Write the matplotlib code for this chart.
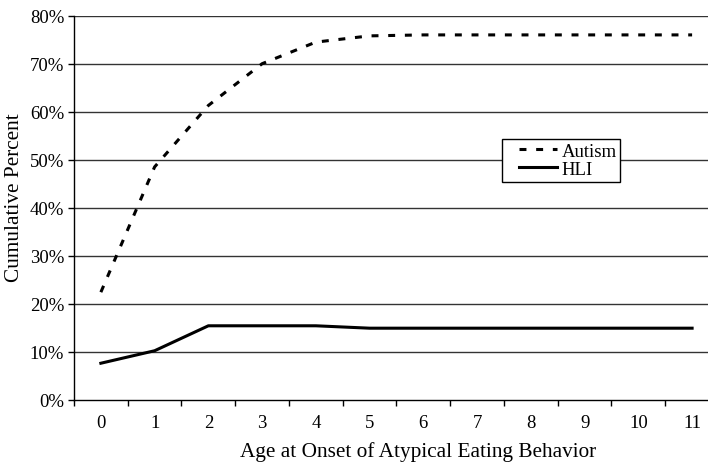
import matplotlib

matplotlib.use("Agg")
import matplotlib.pyplot as plt
from matplotlib.legend_handler import HandlerLine2D
from matplotlib.ticker import FixedLocator, PercentFormatter

plt.rcParams["font.family"] = ["Liberation Serif", "DejaVu Serif"]
plt.rcParams["lines.scale_dashes"] = False

# onset age (years) and cumulative percent per group
ages = list(range(12))
autism = [22.4, 48.5, 61.3, 70.0, 74.5, 75.8, 76.0, 76.0, 76.0, 76.0, 76.0, 76.0]
hli = [7.6, 10.2, 15.4, 15.4, 15.4, 14.9, 14.9, 14.9, 14.9, 14.9, 14.9, 14.9]
y_ticks = [0, 10, 20, 30, 40, 50, 60, 70, 80]


class InsetHandler(HandlerLine2D):
    # legend sample starts a bit in from the box edge, like the Excel original
    def create_artists(self, legend, orig_handle, xdescent, ydescent,
                       width, height, fontsize, trans):
        start = 0.245 * width
        return super().create_artists(legend, orig_handle, xdescent - start, ydescent,
                                      width * 0.95 - start, height, fontsize, trans)


fig = plt.figure(figsize=(7.08, 4.64), dpi=100)
ax = fig.add_axes([0.1045, 0.1364, 0.911, 0.8276])

for y in y_ticks[1:]:
    ax.axhline(y, color="#333333", linewidth=1.0, zorder=1)

ax.plot(ages, autism, color="black", linewidth=2.2, dashes=(5, 7), label="Autism", zorder=3)
ax.plot(ages, hli, color="black", linewidth=2.2, label="HLI", zorder=3)

ax.set_xlim(-0.5, 11.5)
ax.set_ylim(0, 80)
ax.set_yticks(y_ticks)
ax.yaxis.set_major_formatter(PercentFormatter(decimals=0))

ax.set_xticks(ages)
ax.set_xticklabels([str(a) for a in ages])
ax.xaxis.set_minor_locator(FixedLocator([a - 0.5 for a in ages] + [11.5]))
ax.tick_params(axis="x", which="major", length=0, pad=10, labelsize=13.5)
ax.tick_params(axis="x", which="minor", length=4, width=1, direction="out")
ax.tick_params(axis="y", length=4, width=1, direction="out", labelsize=13.5, pad=3)

for side in ("top", "right"):
    ax.spines[side].set_visible(False)
for side in ("left", "bottom"):
    ax.spines[side].set_linewidth(1.0)
    ax.spines[side].set_color("black")

ax.set_xlabel("Age at Onset of Atypical Eating Behavior", fontsize=15.3)
ax.xaxis.set_label_coords(0.533, -0.108)
ax.set_ylabel("Cumulative Percent", fontsize=15.3)
ax.yaxis.set_label_coords(-0.077, 0.528)

leg = ax.legend(loc="upper left", bbox_to_anchor=(0.663, 0.679), fontsize=13.5,
                frameon=True, fancybox=False, handlelength=2.89, handletextpad=0.1,
                borderpad=0.2, labelspacing=0.05, borderaxespad=0,
                handler_map={plt.Line2D: InsetHandler()})
leg.get_frame().set_edgecolor("black")
leg.get_frame().set_linewidth(1.0)
leg.get_frame().set_alpha(1)

fig.savefig("out.png", dpi=100)
